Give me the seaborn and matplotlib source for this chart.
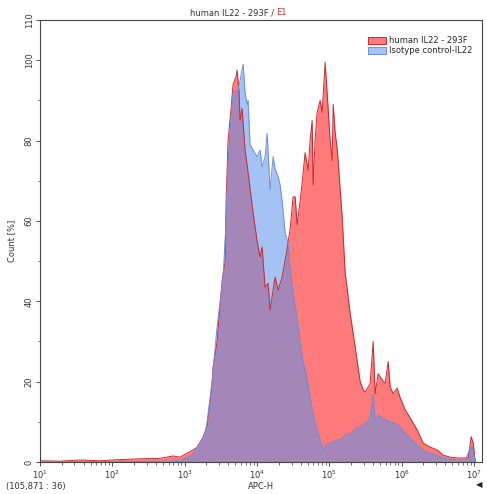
import numpy as np
import pandas as pd
import matplotlib
matplotlib.use("Agg")
import matplotlib.pyplot as plt
import seaborn as sns
from matplotlib.patches import Patch
from matplotlib.ticker import LogLocator, MultipleLocator

# decade position (log10 APC-H) and count [%]
red_dec = [1.000, 1.277, 1.553, 1.830, 2.106, 2.383, 2.660, 2.840, 2.936, 3.033, 3.116,
           3.172, 3.255, 3.310, 3.351, 3.379, 3.393, 3.448, 3.517, 3.559, 3.573, 3.600,
           3.642, 3.669, 3.711, 3.725, 3.752, 3.766, 3.794, 3.835, 3.877, 3.946, 4.001,
           4.043, 4.070, 4.112, 4.153, 4.181, 4.250, 4.292, 4.347, 4.416, 4.458, 4.499,
           4.527, 4.555, 4.596, 4.624, 4.665, 4.707, 4.734, 4.762, 4.776, 4.803, 4.831,
           4.873, 4.900, 4.942, 4.983, 5.011, 5.039, 5.053, 5.080, 5.108, 5.122, 5.149,
           5.177, 5.219, 5.288, 5.357, 5.426, 5.467, 5.495, 5.537, 5.564, 5.606, 5.633,
           5.675, 5.730, 5.772, 5.813, 5.841, 5.882, 5.938, 5.979, 6.048, 6.117, 6.214,
           6.297, 6.394, 6.491, 6.574, 6.671, 6.768, 6.851, 6.920, 6.961, 6.989, 7.017]
red_pct = [0.3, 0.2, 0.5, 0.3, 0.6, 0.8, 0.9, 1.5, 1.2, 2.2, 3.0,
           3.7, 6.2, 9.0, 15.0, 19.5, 23.6, 30.0, 45.0, 50.0, 65.0, 80.0,
           88.0, 94.0, 96.0, 97.5, 92.0, 85.0, 88.0, 77.6, 72.0, 62.0, 55.0,
           51.0, 53.5, 43.5, 44.5, 37.8, 46.0, 42.8, 46.0, 53.0, 58.0, 66.0,
           66.0, 59.0, 65.0, 69.5, 77.0, 72.6, 80.0, 85.0, 69.0, 80.0, 87.0,
           90.0, 87.0, 99.5, 88.0, 80.0, 75.0, 89.0, 82.0, 78.0, 75.0, 68.0,
           61.0, 47.0, 37.0, 28.6, 20.0, 18.0, 17.4, 18.7, 19.6, 30.0, 17.0,
           22.0, 20.4, 19.6, 25.0, 18.7, 17.0, 18.4, 16.0, 13.0, 11.0, 8.0,
           4.7, 3.7, 3.0, 1.7, 1.2, 1.0, 1.0, 1.0, 6.3, 4.7, 0.0]

blue_dec = [1.000, 2.798, 2.964, 3.075, 3.116, 3.213, 3.282, 3.310, 3.379, 3.448, 3.531,
            3.573, 3.600, 3.642, 3.669, 3.739, 3.766, 3.808, 3.835, 3.863, 3.877, 3.904,
            3.946, 4.001, 4.043, 4.070, 4.112, 4.140, 4.181, 4.223, 4.250, 4.292, 4.319,
            4.347, 4.389, 4.430, 4.458, 4.499, 4.555, 4.596, 4.638, 4.693, 4.734, 4.776,
            4.831, 4.873, 4.914, 4.956, 5.011, 5.108, 5.149, 5.246, 5.288, 5.384, 5.426,
            5.523, 5.564, 5.606, 5.633, 5.675, 5.730, 5.799, 5.841, 5.910, 5.979, 6.048,
            6.117, 6.214, 6.297, 6.394, 6.491, 6.574, 6.671, 6.768, 6.878, 6.961, 6.989,
            7.017]
blue_pct = [0.0, 0.2, 0.5, 1.5, 2.2, 4.7, 7.2, 10.0, 20.0, 33.7, 46.0,
            60.0, 75.0, 86.0, 92.0, 92.5, 95.0, 99.0, 92.0, 89.0, 90.0, 79.0,
            77.6, 76.0, 77.6, 73.4, 76.0, 81.8, 67.7, 76.0, 73.0, 71.0, 69.0,
            65.0, 57.0, 54.5, 48.0, 42.0, 36.0, 29.6, 25.0, 21.0, 16.0, 12.0,
            8.0, 5.5, 3.0, 4.5, 4.7, 5.5, 5.5, 7.2, 7.0, 8.7, 8.7,
            10.0, 11.0, 17.0, 10.4, 11.7, 11.0, 10.4, 10.0, 9.7, 8.7, 7.2,
            6.0, 4.2, 3.0, 2.2, 1.7, 1.0, 0.7, 0.5, 0.5, 4.0, 3.0,
            0.0]

red_label = "human IL22 - 293F"
blue_label = "Isotype control-IL22"
red_fill, red_edge = "#ff0000", "#c8282e"
blue_fill, blue_edge = "#5b91ec", "#6b8fdc"

df = pd.concat([
    pd.DataFrame({"APC": np.power(10.0, red_dec), "pct": red_pct, "sample": red_label}),
    pd.DataFrame({"APC": np.power(10.0, blue_dec), "pct": blue_pct, "sample": blue_label}),
])

sns.set_style("white")
plt.rcParams["font.family"] = ["DejaVu Sans"]

fig = plt.figure(figsize=(4.87, 4.94), dpi=100)
ax = fig.add_axes([0.0821, 0.0648, 0.9076, 0.8947])

red = df[df["sample"] == red_label]
blue = df[df["sample"] == blue_label]
ax.fill_between(red["APC"], red["pct"], color=red_fill, alpha=0.52, lw=0)
ax.fill_between(blue["APC"], blue["pct"], color=blue_fill, alpha=0.55, lw=0)
sns.lineplot(data=df, x="APC", y="pct", hue="sample", sort=False,
             palette={red_label: red_edge, blue_label: blue_edge},
             lw=0.7, legend=False, ax=ax)

ax.set_xscale("log")
ax.set_xlim(10, 10 ** 7.11)
ax.set_ylim(0, 110)
ax.set_yticks([0, 20, 40, 60, 80, 100, 110])
ax.yaxis.set_minor_locator(MultipleLocator(10))
ax.xaxis.set_major_locator(LogLocator(base=10, numticks=10))
ax.xaxis.set_minor_locator(LogLocator(base=10, subs=np.arange(2, 10), numticks=20))
ax.tick_params(axis="both", which="major", labelsize=6, length=3, width=0.6,
               colors="#333333", direction="out", bottom=True, left=True, pad=1.5)
ax.tick_params(axis="both", which="minor", length=1.8, width=0.5, bottom=True, left=True,
               colors="#333333")
for lab in ax.get_yticklabels():
    lab.set_rotation(90)
    lab.set_va("center")
ax.set_xlabel("APC-H", fontsize=6, color="#333333", labelpad=1)
ax.set_ylabel("Count [%]", fontsize=6, color="#333333", labelpad=6)
for s in ax.spines.values():
    s.set_color("#444444")
    s.set_linewidth(0.8)

t = ax.text(0.5 + 0.035, 1.006, red_label + " / ", transform=ax.transAxes, ha="right",
            va="bottom", fontsize=6, color="#333333")
ax.annotate("E1", xy=(1, 0), xycoords=t, va="bottom", ha="left", fontsize=6,
            color="#d03030")

handles = [Patch(facecolor="#ff7a7a", edgecolor=red_edge, lw=0.7, label=red_label),
           Patch(facecolor="#a8c4f5", edgecolor=blue_edge, lw=0.7, label=blue_label)]
ax.legend(handles=handles, loc="upper right", bbox_to_anchor=(0.99, 0.975), fontsize=6,
          frameon=False, handlelength=2.2, handleheight=0.9, labelspacing=0.15,
          handletextpad=0.4, borderaxespad=0.2)

fig.text(6 / 487, 1 - 486 / 494, "(105,871 : 36)", fontsize=6, color="#333333",
         va="center", ha="left")
fig.text(482 / 487, 1 - 485 / 494, "\u25c0", fontsize=6, color="#222222",
         va="center", ha="right")

fig.savefig("out.png", dpi=100)
